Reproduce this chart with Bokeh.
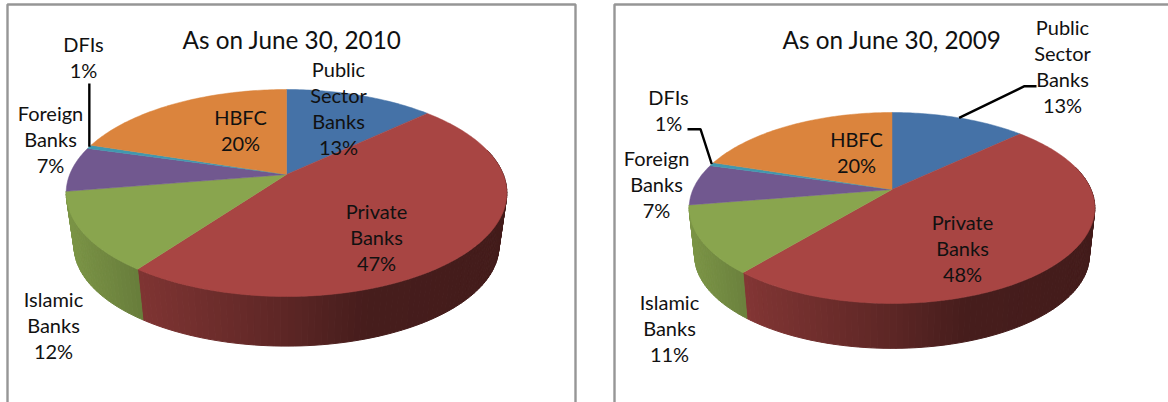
import numpy as np
from bokeh.plotting import figure
from bokeh.models import Range1d
from bokeh.core.properties import value
from bokeh.embed import file_html
from bokeh.resources import INLINE

CATEGORIES = ["Public Sector Banks", "Private Banks", "Islamic Banks", "Foreign Banks", "DFIs", "HBFC"]
# slice sizes; the printed labels are their rounded values
SHARES_2010 = [13, 47, 12.4, 7, 0.6, 20]
SHARES_2009 = [13, 48, 11.4, 7, 0.6, 20]
PCT_2010 = ["13%", "47%", "12%", "7%", "1%", "20%"]
PCT_2009 = ["13%", "48%", "11%", "7%", "1%", "20%"]
COLORS = ["#4572A7", "#A84543", "#89A54E", "#71588F", "#4198AF", "#DB843D"]
TITLE_2010 = "As on June 30, 2010"
TITLE_2009 = "As on June 30, 2009"
FONT = "Lato"
LABEL_PX = 20
TITLE_PX = 24.3
LINE_H = 26


def rim(theta, g):
    u, v = np.sin(theta), np.cos(theta)
    w = 1 + g["k"] * v
    return g["a"] * u / w, g["b"] * v / w


def shade(hex_color, f):
    rgb = [int(hex_color[i:i + 2], 16) for i in (1, 3, 5)]
    return "#%02x%02x%02x" % tuple(int(round(c * f)) for c in rgb)


def draw_pie(p, shares, g):
    edges = np.cumsum([0] + list(shares)) / sum(shares) * 2 * np.pi
    wall_x, wall_y, wall_c = [], [], []
    for i in (1, 2):  # only Private and Islamic show a side wall
        col = COLORS[i]
        n = max(2, int((edges[i + 1] - edges[i]) / np.radians(1.5)))
        ts = np.linspace(edges[i], edges[i + 1], n + 1)
        for t0, t1 in zip(ts[:-1], ts[1:]):
            if np.cos((t0 + t1) / 2) > 0.25:
                continue
            X0, Y0 = rim(t0, g)
            X1, Y1 = rim(t1, g)
            xs = [X0, X1, g["s"] * X1, g["s"] * X0]
            ys = [Y0, Y1, g["s"] * Y1 - g["d"], g["s"] * Y0 - g["d"]]
            rel = (X0 + X1) / 2 / g["rx"]
            f = np.interp(rel, [-1, -0.66, 0.0, 0.35, 1.0], [0.90, 0.75, 0.55, 0.42, 0.40])
            wall_x.append([g["cx"] + x for x in xs])
            wall_y.append([g["cy"] - y for y in ys])
            wall_c.append(shade(col, f))
    p.patches(wall_x, wall_y, fill_color=wall_c, line_color=wall_c, line_width=1)
    for i, col in enumerate(COLORS):
        ts = np.linspace(edges[i], edges[i + 1], max(3, int((edges[i + 1] - edges[i]) / np.radians(1)) + 1))
        X, Y = rim(ts, g)
        p.patch(np.r_[g["cx"], g["cx"] + X], np.r_[g["cy"], g["cy"] - Y],
                fill_color=col, line_color=col, line_width=0.5)
    return edges


def rim_point(edges, i, g):
    X, Y = rim((edges[i] + edges[i + 1]) / 2, g)
    return g["cx"] + X, g["cy"] - Y


def label(p, x, y, lines, px=LABEL_PX):
    ys = [y - 2 + j * LINE_H for j in range(len(lines))]
    p.text([x] * len(lines), ys, text=lines, text_font=value(FONT), text_font_size=f"{px}px",
           text_align="center", text_baseline="middle", text_color="#111111")


def frame(p, xs, ys):
    p.line(xs, ys, line_color="#969696", line_width=2.4)


p = figure(width=1168, height=402, output_backend="svg", toolbar_location=None,
           x_range=Range1d(0, 1168), y_range=Range1d(402, 0), margin=(0, 0, 0, 0),
           min_border=0, outline_line_color=None, background_fill_color="white",
           border_fill_color="white")
p.axis.visible = False
p.grid.visible = False

frame(p, [7, 7, 575, 575], [402, 4, 4, 402])
frame(p, [614, 614, 1168], [402, 4, 4])

G10 = dict(cx=286, cy=174, a=216.8, b=100.2, k=0.1787, rx=220.3, s=0.964, d=54)
G09 = dict(cx=891.5, cy=189, a=199, b=91.9, k=0.1935, rx=203, s=0.973, d=48)

e10 = draw_pie(p, SHARES_2010, G10)
e09 = draw_pie(p, SHARES_2009, G09)

label(p, 291.5, 41, [TITLE_2010], TITLE_PX)
label(p, 338, 70, ["Public", "Sector", "Banks", PCT_2010[0]])
label(p, 376, 212.5, ["Private", "Banks", PCT_2010[1]])
label(p, 53, 300, ["Islamic", "Banks", PCT_2010[2]])
label(p, 50, 114, ["Foreign", "Banks", PCT_2010[3]])
label(p, 83, 45, ["DFIs", PCT_2010[4]])
label(p, 240, 118, ["HBFC", PCT_2010[5]])
ex, ey = rim_point(e10, 4, G10)
p.line([ex, ex], [ey, 83], line_color="black", line_width=2.4)

label(p, 891.5, 41, [TITLE_2009], TITLE_PX)
label(p, 1062, 28, ["Public", "Sector", "Banks", PCT_2009[0]])
label(p, 962, 223, ["Private", "Banks", PCT_2009[1]])
label(p, 669, 303, ["Islamic", "Banks", PCT_2009[2]])
label(p, 656, 159, ["Foreign", "Banks", PCT_2009[3]])
label(p, 668, 98, ["DFIs", PCT_2009[4]])
label(p, 856, 140, ["HBFC", PCT_2009[5]])
ex, ey = rim_point(e09, 0, G09)
p.line([ex, 1024, 1036], [ey, 85.7, 85.7], line_color="black", line_width=2.4)
ex, ey = rim_point(e09, 4, G09)
p.line([687, 700, ex], [128.7, 128.7, ey], line_color="black", line_width=2.4)

open("out.html", "w").write(file_html(p, INLINE))
